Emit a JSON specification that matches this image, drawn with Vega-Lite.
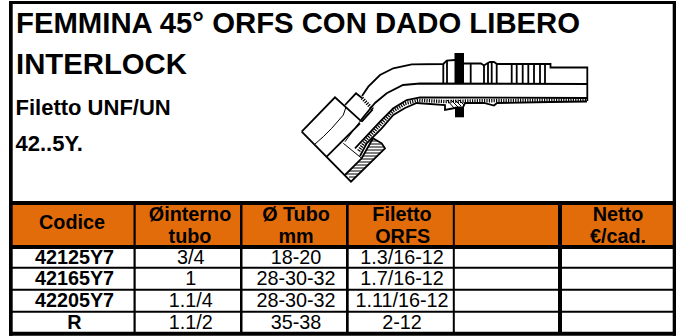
{
"$schema":"https://vega.github.io/schema/vega-lite/v6.json",
"width":681,"height":336,"padding":0,"autosize":"none","background":"white",
"config":{"view":{"stroke":null}},
"datasets":{
"fill":[{"x":12,"x2":673,"y":205,"y2":245}],
"frame":[
{"x":9,"x2":676,"y":1,"y2":4},{"x":9,"x2":12.7,"y":1,"y2":335.7},{"x":672.7,"x2":676,"y":1,"y2":335.7},{"x":9,"x2":676,"y":331.7,"y2":335.7},
{"x":9,"x2":676,"y":201,"y2":205},{"x":9,"x2":676,"y":245,"y2":249},{"x":9,"x2":676,"y":266.8,"y2":268.8},{"x":9,"x2":676,"y":288.8,"y2":290.8},{"x":9,"x2":676,"y":310.8,"y2":312.8},
{"x":133.5,"x2":135.7,"y":201,"y2":332},{"x":240,"x2":242.5,"y":201,"y2":332},{"x":346,"x2":348.7,"y":201,"y2":332},{"x":452.8,"x2":454.8,"y":201,"y2":332},{"x":558,"x2":562,"y":201,"y2":332},
{"x":454.5,"x2":464,"y":53,"y2":83.5},{"x":455,"x2":464,"y":106.7,"y2":117.3}
],
"thick":[
{"g":"a","i":1,"x":301.7,"y":131.7},{"g":"a","i":2,"x":351,"y":181.7},{"g":"a","i":3,"x":385,"y":148.3},{"g":"a","i":4,"x":381.7,"y":143.3},{"g":"a","i":5,"x":373,"y":138.3},
{"g":"b","i":1,"x":301.7,"y":131.7},{"g":"b","i":2,"x":335,"y":97.3},{"g":"b","i":3,"x":361.7,"y":121.7},
{"g":"c","i":1,"x":345,"y":105},{"g":"c","i":2,"x":356,"y":93.3},{"g":"c","i":3,"x":362,"y":98},
{"g":"c2","i":1,"x":372.7,"y":109.3},{"g":"c2","i":2,"x":361.7,"y":121.7},
{"g":"d","i":1,"x":362,"y":96},{"g":"d","i":2,"x":368.3,"y":86.7},{"g":"d","i":3,"x":380,"y":75},{"g":"d","i":4,"x":393.3,"y":68.3},{"g":"d","i":5,"x":411.7,"y":64.3},{"g":"d","i":6,"x":443.3,"y":64},{"g":"d","i":7,"x":446.7,"y":60.7},{"g":"d","i":8,"x":455,"y":60},
{"g":"e","i":1,"x":464,"y":63.5},{"g":"e","i":2,"x":481,"y":63.5},{"g":"e","i":3,"x":484,"y":65.5},{"g":"e","i":4,"x":487,"y":63.5},{"g":"e","i":5,"x":490,"y":62},{"g":"e","i":6,"x":494,"y":62},{"g":"e","i":7,"x":497,"y":64},{"g":"e","i":8,"x":550.5,"y":64},{"g":"e","i":9,"x":550.5,"y":67.5},{"g":"e","i":10,"x":587.3,"y":67.5},{"g":"e","i":11,"x":587.3,"y":101},
{"g":"f","i":1,"x":587,"y":84},{"g":"f","i":2,"x":420,"y":83.5},{"g":"f","i":3,"x":403,"y":85},{"g":"f","i":4,"x":386.7,"y":93.3},{"g":"f","i":5,"x":375,"y":103},{"g":"f","i":6,"x":361,"y":120},
{"g":"n","i":1,"x":326.7,"y":156.7},{"g":"n","i":2,"x":360,"y":123.3},
{"g":"o","i":1,"x":345,"y":175},{"g":"o","i":2,"x":361.7,"y":158.3},{"g":"o","i":3,"x":373,"y":138.3},
{"g":"v01","i":1,"x":443.3,"y":64},{"g":"v01","i":2,"x":443.3,"y":84},
{"g":"v02","i":1,"x":447,"y":61},{"g":"v02","i":2,"x":447,"y":84},
{"g":"v03","i":1,"x":470.7,"y":63},{"g":"v03","i":2,"x":470.7,"y":84},
{"g":"v04","i":1,"x":484,"y":65},{"g":"v04","i":2,"x":484,"y":84},
{"g":"v05","i":1,"x":488,"y":63},{"g":"v05","i":2,"x":488,"y":84},
{"g":"v06","i":1,"x":491.7,"y":62},{"g":"v06","i":2,"x":491.7,"y":84},
{"g":"v07","i":1,"x":496.7,"y":64},{"g":"v07","i":2,"x":496.7,"y":84},
{"g":"v08","i":1,"x":511.7,"y":64},{"g":"v08","i":2,"x":511.7,"y":84},
{"g":"v09","i":1,"x":516.7,"y":64},{"g":"v09","i":2,"x":516.7,"y":84},
{"g":"v10","i":1,"x":522.7,"y":64},{"g":"v10","i":2,"x":522.7,"y":84},
{"g":"v11","i":1,"x":528.3,"y":64},{"g":"v11","i":2,"x":528.3,"y":84},
{"g":"v12","i":1,"x":534,"y":64},{"g":"v12","i":2,"x":534,"y":84},
{"g":"v13","i":1,"x":540,"y":64},{"g":"v13","i":2,"x":540,"y":84},
{"g":"v14","i":1,"x":545,"y":64},{"g":"v14","i":2,"x":545,"y":84},
{"g":"h","i":1,"x":587,"y":98},{"g":"h","i":2,"x":420,"y":97.3},{"g":"h","i":3,"x":406.7,"y":100},{"g":"h","i":4,"x":393.3,"y":108.3},{"g":"h","i":5,"x":380,"y":121.7},{"g":"h","i":6,"x":355,"y":148.3},
{"g":"j","i":1,"x":587,"y":101.5},{"g":"j","i":2,"x":550,"y":102},{"g":"j","i":3,"x":497,"y":103},{"g":"j","i":4,"x":494,"y":105.5},{"g":"j","i":5,"x":484,"y":103},{"g":"j","i":6,"x":465,"y":103},{"g":"j","i":7,"x":463,"y":107.3},{"g":"j","i":8,"x":455,"y":108},{"g":"j","i":9,"x":445,"y":110},{"g":"j","i":10,"x":445,"y":105},{"g":"j","i":11,"x":416.7,"y":103},{"g":"j","i":12,"x":405,"y":108},{"g":"j","i":13,"x":393.3,"y":115},{"g":"j","i":14,"x":381.7,"y":128.3},{"g":"j","i":15,"x":366.7,"y":143.3},{"g":"j","i":16,"x":360,"y":156}
],
"thin":[
{"g":"w","i":1,"x":315,"y":144},{"g":"w","i":2,"x":323.3,"y":136.7},{"g":"w","i":3,"x":331.7,"y":128.3},{"g":"w","i":4,"x":343.3,"y":115},{"g":"w","i":5,"x":346,"y":107},
{"g":"q","i":1,"x":343.3,"y":143.3},{"g":"q","i":2,"x":361.7,"y":158.3},
{"g":"s","i":1,"x":361,"y":120},{"g":"s","i":2,"x":345,"y":141.7},
{"g":"h01","i":1,"x":371.3,"y":141},{"g":"h01","i":2,"x":378,"y":141},
{"g":"h02","i":1,"x":369.6,"y":144},{"g":"h02","i":2,"x":382,"y":144},
{"g":"h03","i":1,"x":368,"y":147},{"g":"h03","i":2,"x":384.5,"y":147},
{"g":"h04","i":1,"x":366.5,"y":150},{"g":"h04","i":2,"x":383.5,"y":150},
{"g":"h05","i":1,"x":364.8,"y":153},{"g":"h05","i":2,"x":380.4,"y":153},
{"g":"h06","i":1,"x":363,"y":156},{"g":"h06","i":2,"x":377.4,"y":156},
{"g":"h07","i":1,"x":361,"y":159},{"g":"h07","i":2,"x":374.4,"y":159},
{"g":"h08","i":1,"x":358,"y":162},{"g":"h08","i":2,"x":371.3,"y":162},
{"g":"h09","i":1,"x":355,"y":165},{"g":"h09","i":2,"x":368.3,"y":165},
{"g":"h10","i":1,"x":352,"y":168},{"g":"h10","i":2,"x":365.2,"y":168},
{"g":"h11","i":1,"x":349,"y":171},{"g":"h11","i":2,"x":362.2,"y":171},
{"g":"h12","i":1,"x":346.5,"y":174},{"g":"h12","i":2,"x":359.2,"y":174},
{"g":"h13","i":1,"x":349,"y":177},{"g":"h13","i":2,"x":356,"y":177},
{"g":"k1","i":1,"x":447,"y":100},{"g":"k1","i":2,"x":454,"y":108},
{"g":"k2","i":1,"x":451,"y":100},{"g":"k2","i":2,"x":458,"y":107},
{"g":"k3","i":1,"x":455,"y":100},{"g":"k3","i":2,"x":461,"y":106},
{"g":"k4","i":1,"x":459,"y":100},{"g":"k4","i":2,"x":464,"y":105}
],
"hatch":[
{"g":"z","i":1,"x":586,"y":99.8},{"g":"z","i":2,"x":500,"y":100.5},{"g":"z","i":3,"x":470,"y":101},{"g":"z","i":4,"x":445,"y":101.5},{"g":"z","i":5,"x":418,"y":100.3},{"g":"z","i":6,"x":405,"y":103.5},{"g":"z","i":7,"x":393,"y":111},{"g":"z","i":8,"x":380,"y":125},{"g":"z","i":9,"x":366,"y":140},{"g":"z","i":10,"x":358,"y":152},
{"g":"y","i":1,"x":362,"y":98},{"g":"y","i":2,"x":372.7,"y":109.3}
],
"titles":[{"x":16,"y":33,"t":"FEMMINA 45° ORFS CON DADO LIBERO"},{"x":16,"y":74,"t":"INTERLOCK"}],
"subs":[{"x":15.5,"y":115,"t":"Filetto UNF/UN"},{"x":15.5,"y":150.7,"t":"42..5Y."}],
"bolds":[
{"x":72,"y":223,"t":"Codice"},{"x":190,"y":215,"t":"Øinterno"},{"x":190,"y":236.7,"t":"tubo"},{"x":296,"y":215,"t":"Ø Tubo"},{"x":296,"y":236.7,"t":"mm"},{"x":402,"y":215,"t":"Filetto"},{"x":402.7,"y":236.7,"t":"ORFS"},{"x":618,"y":215,"t":"Netto"},{"x":618,"y":236.7,"t":"€/cad."},
{"x":74.5,"y":257.7,"t":"42125Y7"},{"x":74.5,"y":279.3,"t":"42165Y7"},{"x":74.5,"y":301,"t":"42205Y7"},{"x":74.5,"y":322.7,"t":"R"}
],
"cells":[
{"x":190.8,"y":257.7,"t":"3/4"},{"x":190.8,"y":279.3,"t":"1"},{"x":190.8,"y":301,"t":"1.1/4"},{"x":190.8,"y":322.7,"t":"1.1/2"},
{"x":296,"y":257.7,"t":"18-20"},{"x":296,"y":279.3,"t":"28-30-32"},{"x":296,"y":301,"t":"28-30-32"},{"x":296,"y":322.7,"t":"35-38"},
{"x":402,"y":257.7,"t":"1.3/16-12"},{"x":402,"y":279.3,"t":"1.7/16-12"},{"x":402,"y":301,"t":"1.11/16-12"},{"x":402,"y":322.7,"t":"2-12"}
]
},
"encoding":{
"x":{"field":"x","type":"quantitative","axis":null,"scale":{"domain":[0,681],"nice":false,"zero":false}},
"y":{"field":"y","type":"quantitative","axis":null,"scale":{"domain":[0,336],"reverse":true,"nice":false,"zero":false}}
},
"layer":[
{"data":{"name":"fill"},"mark":{"type":"rect","color":"#E36C0A"},"encoding":{"x2":{"field":"x2"},"y2":{"field":"y2"}}},
{"data":{"name":"frame"},"mark":{"type":"rect","color":"#000000"},"encoding":{"x2":{"field":"x2"},"y2":{"field":"y2"}}},
{"data":{"name":"hatch"},"mark":{"type":"line","color":"#000000","strokeWidth":3.5,"strokeDash":[1.2,1.2]},"encoding":{"detail":{"field":"g"},"order":{"field":"i"}}},
{"data":{"name":"thin"},"mark":{"type":"line","color":"#000000","strokeWidth":1},"encoding":{"detail":{"field":"g"},"order":{"field":"i"}}},
{"data":{"name":"thick"},"mark":{"type":"line","color":"#000000","strokeWidth":1.8},"encoding":{"detail":{"field":"g"},"order":{"field":"i"}}},
{"data":{"name":"titles"},"mark":{"type":"text","font":"Liberation Sans","fontWeight":"bold","fontSize":29.3,"align":"left","baseline":"alphabetic","color":"#000000"},"encoding":{"text":{"field":"t"}}},
{"data":{"name":"subs"},"mark":{"type":"text","font":"Liberation Sans","fontWeight":"bold","fontSize":22,"align":"left","baseline":"alphabetic","color":"#000000"},"encoding":{"text":{"field":"t"}}},
{"data":{"name":"bolds"},"mark":{"type":"text","font":"Liberation Sans","fontWeight":"bold","fontSize":19.8,"align":"center","baseline":"middle","color":"#000000"},"encoding":{"text":{"field":"t"}}},
{"data":{"name":"cells"},"mark":{"type":"text","font":"Liberation Sans","fontSize":19.8,"align":"center","baseline":"middle","color":"#000000"},"encoding":{"text":{"field":"t"}}}
]
}
